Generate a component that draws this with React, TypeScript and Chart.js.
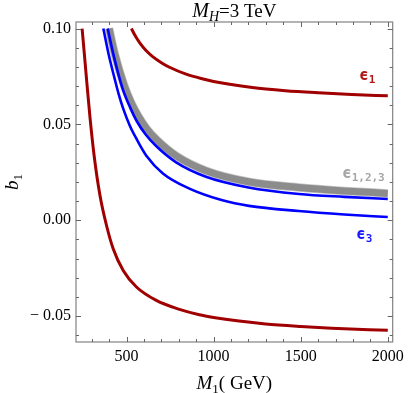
import React, { useEffect, useRef } from "react";
import { Chart, registerables } from "chart.js";

Chart.register(...registerables);

// ---- axis ranges & ticks ----
const X_MIN = 210;
const X_MAX = 2028;
const Y_MIN = -0.0635;
const Y_MAX = 0.1034;
const X_MAJOR = [500, 1000, 1500, 2000];
const X_MINOR = [300, 400, 600, 700, 800, 900, 1100, 1200, 1300, 1400, 1600, 1700, 1800, 1900];
const Y_MAJOR = [-0.05, 0.0, 0.05, 0.1];
const Y_MINOR = [-0.06, -0.04, -0.03, -0.02, -0.01, 0.01, 0.02, 0.03, 0.04, 0.06, 0.07, 0.08, 0.09];

// ---- curves (M1 in GeV, b1) ----
const redUpperM = [528, 550, 576, 612, 652, 700, 747, 842, 940, 1032, 1222, 1412, 1602, 1792, 2000];
const redUpperB = [0.1, 0.0962, 0.0925, 0.0885, 0.0852, 0.0822, 0.0798, 0.0762, 0.0737, 0.0718, 0.0692, 0.0676, 0.0665, 0.0656, 0.0649];

const redLowerM = [245, 260, 274, 291, 315, 348, 386, 424, 481, 557, 671, 804, 918, 1000, 1146, 1298, 1500, 1678, 2000];
const redLowerB = [0.1, 0.0845, 0.07, 0.053, 0.033, 0.0128, -0.003, -0.015, -0.0262, -0.0348, -0.0418, -0.0465, -0.0493, -0.0507, -0.0526, -0.0541, -0.0554, -0.0563, -0.0574];

const blueOuterM = [367, 400, 430, 455, 481, 519, 560, 614, 709, 861, 1051, 1203, 1488, 1750, 2000];
const blueOuterB = [0.1, 0.0855, 0.0745, 0.0658, 0.0582, 0.0493, 0.042, 0.0337, 0.0244, 0.0165, 0.0104, 0.0075, 0.0048, 0.003, 0.0017];

const blueInnerM = [392, 426, 477, 520, 560, 610, 670, 785, 956, 1200, 1490, 1750, 2000];
const blueInnerB = [0.1, 0.086, 0.0688, 0.059, 0.0515, 0.0447, 0.0387, 0.0302, 0.0227, 0.0171, 0.0137, 0.0122, 0.0111];

const grayM = [400, 432, 485, 525, 565, 615, 675, 790, 960, 1200, 1490, 1750, 2000];
const grayB = [0.1, 0.087, 0.0707, 0.0617, 0.0547, 0.0478, 0.0418, 0.0333, 0.0257, 0.0201, 0.0171, 0.0153, 0.014];

const RED = "#a00000";
const BLUE = "#0000ff";

const pts = (xs: number[], ys: number[]) => xs.map((x, i) => ({ x, y: ys[i] }));

const SERIF = '"Liberation Serif", "Times New Roman", serif';
const MONO = '"DejaVu Sans Mono", monospace';

type Part = { t: string; f: string; dy?: number; c?: string };

function drawParts(ctx: CanvasRenderingContext2D, parts: Part[], x: number, y: number, align: "left" | "center") {
  let w = 0;
  for (const p of parts) {
    ctx.font = p.f;
    w += ctx.measureText(p.t).width;
  }
  let cx = align === "center" ? x - w / 2 : x;
  ctx.textAlign = "left";
  ctx.textBaseline = "alphabetic";
  for (const p of parts) {
    ctx.font = p.f;
    if (p.c) ctx.fillStyle = p.c;
    ctx.fillText(p.t, cx, y + (p.dy || 0));
    cx += ctx.measureText(p.t).width;
  }
}

const decor = {
  id: "decor",
  afterDraw(chart: any) {
    const { ctx, chartArea: a, scales } = chart;
    const xs = scales.x;
    const ys = scales.y;
    ctx.save();
    // frame
    ctx.strokeStyle = "#8c8c8c";
    ctx.lineWidth = 1.3;
    ctx.strokeRect(a.left, a.top, a.right - a.left, a.bottom - a.top);
    // ticks (inward, all four sides)
    ctx.lineWidth = 1;
    ctx.strokeStyle = "#666";
    const tickX = (v: number, len: number) => {
      const px = Math.round(xs.getPixelForValue(v)) + 0.5;
      ctx.beginPath();
      ctx.moveTo(px, a.bottom);
      ctx.lineTo(px, a.bottom - len);
      ctx.moveTo(px, a.top);
      ctx.lineTo(px, a.top + len);
      ctx.stroke();
    };
    const tickY = (v: number, len: number) => {
      const py = Math.round(ys.getPixelForValue(v)) + 0.5;
      ctx.beginPath();
      ctx.moveTo(a.left, py);
      ctx.lineTo(a.left + len, py);
      ctx.moveTo(a.right, py);
      ctx.lineTo(a.right - len, py);
      ctx.stroke();
    };
    X_MAJOR.forEach((v) => tickX(v, 5));
    X_MINOR.forEach((v) => tickX(v, 3));
    Y_MAJOR.forEach((v) => tickY(v, 5));
    Y_MINOR.forEach((v) => tickY(v, 3));

    // title
    ctx.fillStyle = "#000";
    const cxm = (a.left + a.right) / 2;
    drawParts(
      ctx,
      [
        { t: "M", f: `italic 20px ${SERIF}` },
        { t: "H", f: `italic 14px ${SERIF}`, dy: 4 },
        { t: "=3 TeV", f: `19px ${SERIF}` },
      ],
      cxm,
      17,
      "center"
    );
    // x title
    drawParts(
      ctx,
      [
        { t: "M", f: `italic 19px ${SERIF}` },
        { t: "1", f: `13px ${SERIF}`, dy: 4 },
        { t: "( GeV)", f: `19px ${SERIF}` },
      ],
      cxm,
      389,
      "center"
    );
    // y title (rotated)
    ctx.save();
    ctx.translate(18, (a.top + a.bottom) / 2);
    ctx.rotate(-Math.PI / 2);
    drawParts(
      ctx,
      [
        { t: "b", f: `italic 19px ${SERIF}` },
        { t: "1", f: `13px ${SERIF}`, dy: 4 },
      ],
      0,
      0,
      "center"
    );
    ctx.restore();

    // curve labels
    drawParts(
      ctx,
      [
        { t: "ϵ", f: `bold 16px ${MONO}`, c: "#b01818" },
        { t: "1", f: `bold 11px ${MONO}`, dy: 3 },
      ],
      359,
      80,
      "left"
    );
    drawParts(
      ctx,
      [
        { t: "ϵ", f: `bold 16px ${MONO}`, c: "#a6a6a6" },
        { t: "1,2,3", f: `bold 11px ${MONO}`, dy: 3 },
      ],
      342,
      178,
      "left"
    );
    drawParts(
      ctx,
      [
        { t: "ϵ", f: `bold 16px ${MONO}`, c: "#1a1aff" },
        { t: "3", f: `bold 11px ${MONO}`, dy: 3 },
      ],
      356,
      239,
      "left"
    );
    ctx.restore();
  },
};

export default function App() {
  const ref = useRef<HTMLCanvasElement | null>(null);
  useEffect(() => {
    if (!ref.current) return;
    const line = (data: any, color: string, width: number) => ({
      data,
      borderColor: color,
      borderWidth: width,
      pointRadius: 0,
      showLine: true,
      fill: false,
      cubicInterpolationMode: "monotone" as const,
      borderCapStyle: "butt" as const,
      borderJoinStyle: "round" as const,
    });
    const chart = new Chart(ref.current, {
      type: "scatter",
      data: {
        datasets: [
          line(pts(redUpperM, redUpperB), RED, 3),
          line(pts(redLowerM, redLowerB), RED, 3),
          line(pts(blueInnerM, blueInnerB), BLUE, 2.6),
          line(pts(blueOuterM, blueOuterB), BLUE, 2.6),
          line(pts(grayM, grayB), "#8c8c8c", 7),
          line(pts(grayM, grayB), "#c8c8c8", 8.5),
        ],
      },
      options: {
        animation: false,
        responsive: false,
        events: [],
        layout: { padding: { top: 22, right: 14, left: 0, bottom: 0 } },
        plugins: { legend: { display: false }, title: { display: false }, tooltip: { enabled: false } },
        scales: {
          x: {
            type: "linear",
            min: X_MIN,
            max: X_MAX,
            grid: { display: false, drawTicks: false },
            border: { display: false },
            afterBuildTicks: (s: any) => {
              s.ticks = X_MAJOR.map((v) => ({ value: v }));
            },
            afterFit: (s: any) => {
              s.height = 51;
            },
            ticks: {
              padding: 5,
              maxRotation: 0,
              color: "#000",
              font: { family: "Liberation Serif", size: 16 },
              callback: (v: any) => String(v),
            },
          },
          y: {
            type: "linear",
            min: Y_MIN,
            max: Y_MAX,
            grid: { display: false, drawTicks: false },
            border: { display: false },
            afterBuildTicks: (s: any) => {
              s.ticks = Y_MAJOR.map((v) => ({ value: v }));
            },
            afterFit: (s: any) => {
              s.width = 76;
            },
            ticks: {
              padding: 5,
              color: "#000",
              font: { family: "Liberation Serif", size: 16 },
              callback: (v: any) => {
                const n = Number(v);
                const s = Math.abs(n).toFixed(2);
                return n < -1e-9 ? "\u2212 " + s : s;
              },
            },
          },
        },
      },
      plugins: [decor],
    });
    return () => chart.destroy();
  }, []);
  return (
    <div style={{ position: "fixed", left: 0, top: 0, width: 409, height: 393, background: "#fff" }}>
      <canvas ref={ref} width={409} height={393} style={{ display: "block" }} />
    </div>
  );
}
